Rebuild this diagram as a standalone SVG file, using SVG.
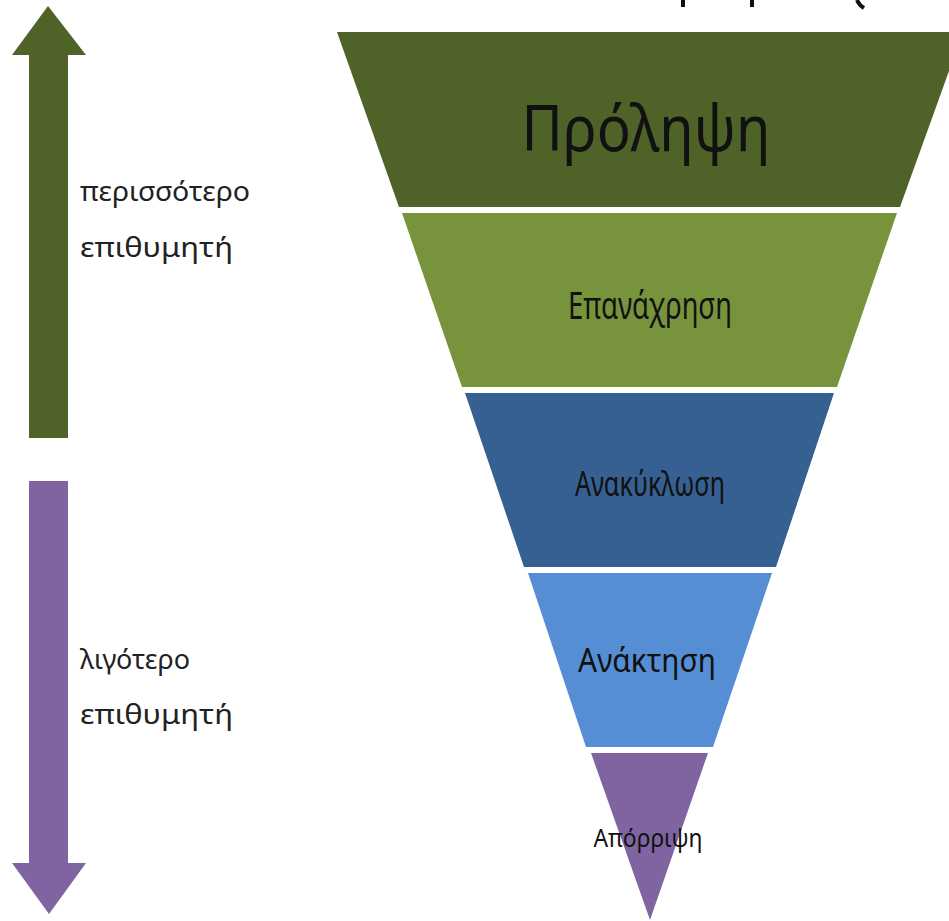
<svg xmlns="http://www.w3.org/2000/svg" width="949" height="921" viewBox="0 0 949 921">
<style>
.lbl{font-family:"Noto Sans","Open Sans","DejaVu Sans",sans-serif;fill:#111;}
.side{font-family:"Noto Sans","Open Sans","DejaVu Sans",sans-serif;fill:#222;font-size:27px;}
.c{text-anchor:middle;}
</style>
<rect width="949" height="921" fill="#ffffff"/>
<g id="fragments" stroke="#111" stroke-width="4" fill="none">
<line x1="683" y1="0" x2="683" y2="7"/>
<line x1="752" y1="0" x2="752" y2="7"/>
<path d="M857 0 Q859 5 864 8"/>
</g>
<g id="arrow-up">
<polygon points="48,6 86,55 68,55 68,438 29,438 29,55 12,55" fill="#4f6228"/>
</g>
<g id="arrow-down">
<polygon points="29,481 68,481 68,863 86,863 49,914 12,863 29,863" fill="#8064a2"/>
</g>
<g id="label-more">
<text class="side" x="80" y="201" textLength="170" lengthAdjust="spacingAndGlyphs">περισσότερο</text>
<text class="side" x="80" y="257" textLength="153" lengthAdjust="spacingAndGlyphs">επιθυμητή</text>
</g>
<g id="label-less">
<text class="side" x="80" y="669" textLength="110" lengthAdjust="spacingAndGlyphs">λιγότερο</text>
<text class="side" x="80" y="724" textLength="153" lengthAdjust="spacingAndGlyphs">επιθυμητή</text>
</g>
<g id="band-prolipsi">
<polygon points="337,32 963,32 900,207 399,207" fill="#4f6228"/>
<text class="lbl c" x="646" y="151" font-size="64" textLength="249" lengthAdjust="spacingAndGlyphs">Πρόληψη</text>
</g>
<g id="band-epanachrisi">
<polygon points="402,213 897,213 837,387 462,387" fill="#77933c"/>
<text class="lbl c" x="650" y="319" font-size="38" textLength="164" lengthAdjust="spacingAndGlyphs">Επανάχρηση</text>
</g>
<g id="band-anakyklosi">
<polygon points="465,393 834,393 776,567 524,567" fill="#366092"/>
<text class="lbl c" x="650" y="496" font-size="34" textLength="150" lengthAdjust="spacingAndGlyphs">Ανακύκλωση</text>
</g>
<g id="band-anaktisi">
<polygon points="528,573 772,573 713,747 586,747" fill="#558ed5"/>
<text class="lbl c" x="647" y="672" font-size="32" textLength="138" lengthAdjust="spacingAndGlyphs">Ανάκτηση</text>
</g>
<g id="band-aporripsi">
<polygon points="591,753 708,753 650,920" fill="#8064a2"/>
<text class="lbl c" x="648" y="847" font-size="26" textLength="109" lengthAdjust="spacingAndGlyphs">Απόρριψη</text>
</g>
</svg>
